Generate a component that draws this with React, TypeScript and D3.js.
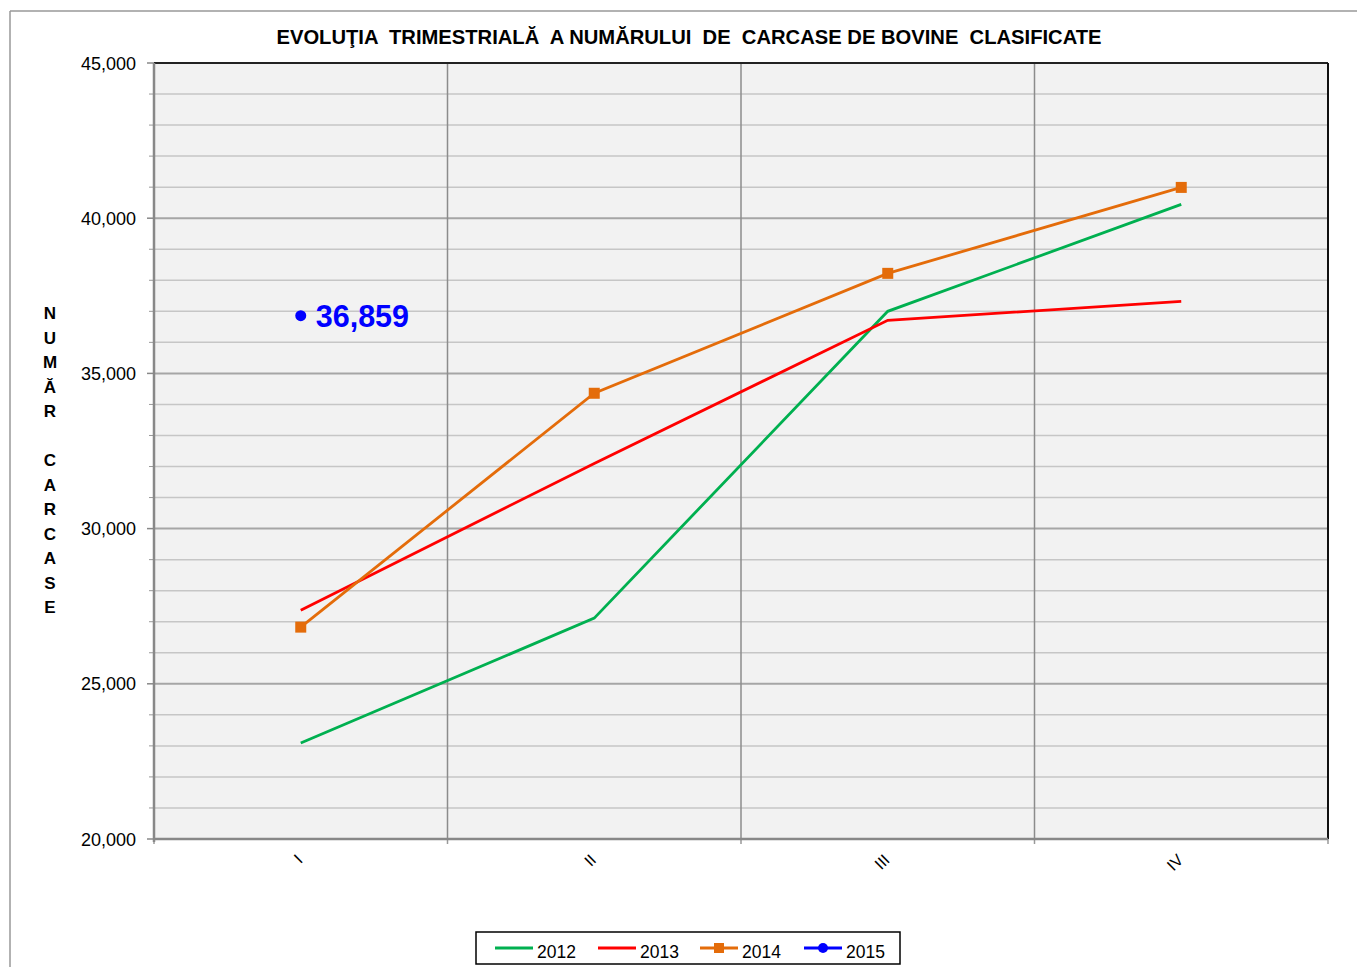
import React from "react";
import * as d3 from "d3";

const categories = ["I", "II", "III", "IV"];
const years = ["2012", "2013", "2014", "2015"];
const values2012 = [23090, 27115, 37000, 40444];
const values2013 = [27373, 32100, 36710, 37321];
const values2014 = [26826, 34360, 38223, 40992];
const values2015 = [36859];
const yTicks = [20000, 25000, 30000, 35000, 40000, 45000];
const title = "EVOLUŢIA  TRIMESTRIALĂ  A NUMĂRULUI  DE  CARCASE DE BOVINE  CLASIFICATE";
const yTitle = "NUMĂR CARCASE";

const colors = ["#00b050", "#ff0000", "#e46c0a", "#0000ff"];
const seriesList = [values2012, values2013, values2014, values2015];

const W = 1357, H = 967;
const L = 154, R = 1328, T = 63, B = 839;
const font = "'Liberation Sans', Arial, sans-serif";

export default function App() {
  const x = d3.scaleBand<string>().domain(categories).range([L, R]);
  const cx = (c: string) => (x(c) as number) + x.bandwidth() / 2;
  const y = d3.scaleLinear().domain([20000, 45000]).range([B, T]);
  const minor = d3.range(20000, 45001, 1000);
  const line = d3.line<[number, number]>().x(d => d[0]).y(d => d[1]);
  const fmt = d3.format(",");

  const legendItems = [
    { x: 495, label: years[0], color: colors[0], marker: "none" },
    { x: 598, label: years[1], color: colors[1], marker: "none" },
    { x: 700, label: years[2], color: colors[2], marker: "square" },
    { x: 804, label: years[3], color: colors[3], marker: "circle" },
  ];

  const letters = yTitle.split("");

  return (
    <svg width={W} height={H} style={{ position: "absolute", left: 0, top: 0, background: "#fff" }} fontFamily={font}>
      {/* outer frame */}
      <line x1={10} y1={11} x2={W} y2={11} stroke="#999" strokeWidth={1.5} />
      <line x1={10} y1={11} x2={10} y2={H} stroke="#999" strokeWidth={1.5} />
      {/* title */}
      <text x={689} y={44} textAnchor="middle" fontSize={20.2} fontWeight="bold" style={{ whiteSpace: "pre" }}>{title}</text>
      {/* plot bg */}
      <rect x={L} y={T} width={R - L} height={B - T} fill="#f2f2f2" />
      {/* minor gridlines */}
      {minor.filter(v => v % 5000 !== 0).map(v => (
        <g key={"m" + v}>
          <line x1={L} x2={R} y1={y(v)} y2={y(v)} stroke="#c6c6c6" strokeWidth={1.5} />
          <line x1={149} x2={L} y1={y(v)} y2={y(v)} stroke="#999" strokeWidth={1} />
        </g>
      ))}
      {/* major gridlines */}
      {yTicks.map(v => (
        <g key={"M" + v}>
          <line x1={L} x2={R} y1={y(v)} y2={y(v)} stroke="#a6a6a6" strokeWidth={2} />
          <line x1={147} x2={L} y1={y(v)} y2={y(v)} stroke="#888" strokeWidth={1.5} />
          <text x={136} y={y(v) + 6.5} textAnchor="end" fontSize={18}>{fmt(v)}</text>
        </g>
      ))}
      {/* vertical gridlines */}
      {categories.slice(1).map(c => (
        <line key={"v" + c} x1={x(c) as number} x2={x(c) as number} y1={T} y2={B} stroke="#8c8c8c" strokeWidth={1.5} />
      ))}
      {/* x ticks */}
      {[...categories.map(c => x(c) as number), R].map((px, i) => (
        <line key={"xt" + i} x1={px} x2={px} y1={B} y2={B + 5} stroke="#999" strokeWidth={1.5} />
      ))}
      {/* border */}
      <line x1={L} x2={R} y1={T} y2={T} stroke="#222" strokeWidth={2} />
      <line x1={R} x2={R} y1={T} y2={B} stroke="#111" strokeWidth={2} />
      <line x1={L} x2={L} y1={T} y2={B + 3} stroke="#888" strokeWidth={2.5} />
      <line x1={L} x2={R} y1={B} y2={B} stroke="#888" strokeWidth={2.5} />
      {/* x labels */}
      {categories.map(c => (
        <text key={"xl" + c} x={cx(c) + 3} y={861} textAnchor="end" fontSize={16}
          transform={`rotate(-45 ${cx(c) + 3} ${861})`}>{c}</text>
      ))}
      {/* y title */}
      {letters.map((ch, i) => (
        <text key={"yt" + i} x={50} y={319 + i * 24.5} textAnchor="middle" fontSize={17} fontWeight="bold">{ch === " " ? "" : ch}</text>
      ))}
      {/* series */}
      {seriesList.map((vals, si) => (
        <path key={"s" + si}
          d={line(vals.map((v, i) => [cx(categories[i]), y(v)] as [number, number])) || ""}
          fill="none" stroke={colors[si]} strokeWidth={2.8} />
      ))}
      {values2014.map((v, i) => (
        <rect key={"sq" + i} x={cx(categories[i]) - 5.5} y={y(v) - 5.5} width={11} height={11} fill={colors[2]} />
      ))}
      {values2015.map((v, i) => (
        <g key={"c" + i}>
          <circle cx={cx(categories[i])} cy={y(v)} r={5.5} fill={colors[3]} />
          <text x={cx(categories[i]) + 15} y={y(v) + 11} fontSize={30.5} fontWeight="bold" fill={colors[3]}>{fmt(v)}</text>
        </g>
      ))}
      {/* legend */}
      <rect x={476} y={932} width={424} height={32} fill="#fff" stroke="#000" strokeWidth={1.5} />
      {legendItems.map(it => (
        <g key={"lg" + it.label}>
          <line x1={it.x} x2={it.x + 38} y1={948} y2={948} stroke={it.color} strokeWidth={2.8} />
          {it.marker === "square" && <rect x={it.x + 19 - 5} y={943} width={10} height={10} fill={it.color} />}
          {it.marker === "circle" && <circle cx={it.x + 19} cy={948} r={5} fill={it.color} />}
          <text x={it.x + 42} y={958} fontSize={17.5}>{it.label}</text>
        </g>
      ))}
    </svg>
  );
}
